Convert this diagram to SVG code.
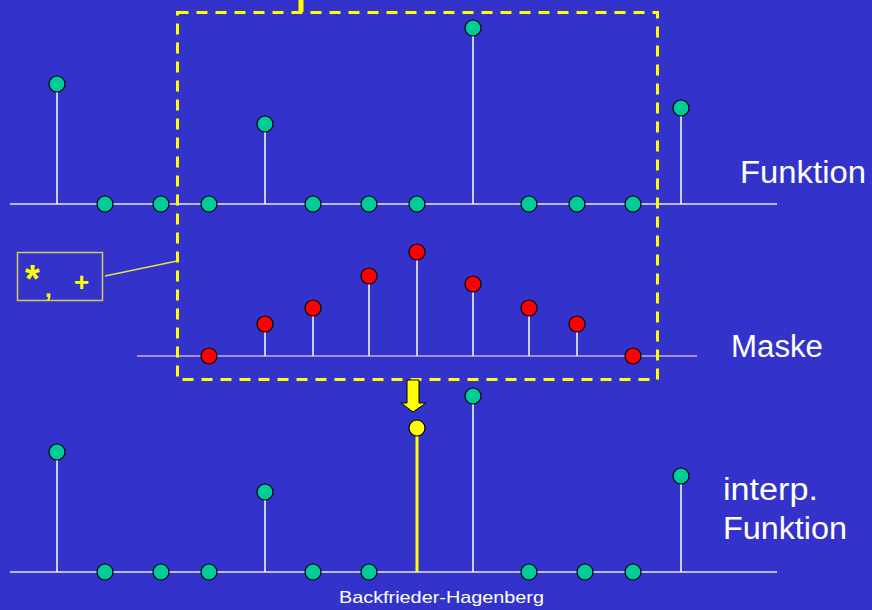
<svg xmlns="http://www.w3.org/2000/svg" width="872" height="610" viewBox="0 0 872 610">
<defs>
<style>
.bg{fill:#3333CC}
.axis{stroke:#E8E8FF;stroke-width:1.5}
.maxis{stroke:#D8A8D0;stroke-width:1.5}
.stem{stroke:#FFFFFF;stroke-width:1.5}
.g{fill:#00CC99;stroke:#000;stroke-width:1.2}
.r{fill:#FF0000;stroke:#000;stroke-width:1.2}
.y{fill:#FFFF00;stroke:#000;stroke-width:1.2}
.lbl{fill:#FFFFFF;font-family:"Liberation Sans",Arial,sans-serif;font-size:31px}
.foot{fill:#FFFFFF;font-family:"Liberation Sans",Arial,sans-serif;font-size:17px}
.op{fill:#FFFF00;font-family:"Liberation Sans",Arial,sans-serif;font-weight:bold}
</style>
</defs>
<rect class="bg" x="0" y="0" width="872" height="610"/>

<g id="connectors">
  <line class="axis" x1="10" y1="204" x2="777" y2="204"/>
  <line class="maxis" x1="137" y1="356" x2="697" y2="356"/>
  <line class="axis" x1="10" y1="572" x2="777" y2="572"/>
  <line class="stem" x1="57" y1="84" x2="57" y2="204"/>
  <line class="stem" x1="265" y1="124" x2="265" y2="204"/>
  <line class="stem" x1="473" y1="28" x2="473" y2="204"/>
  <line class="stem" x1="681" y1="108" x2="681" y2="204"/>
  <line class="stem" x1="265" y1="324" x2="265" y2="356"/>
  <line class="stem" x1="313" y1="308" x2="313" y2="356"/>
  <line class="stem" x1="369" y1="276" x2="369" y2="356"/>
  <line class="stem" x1="417" y1="252" x2="417" y2="356"/>
  <line class="stem" x1="473" y1="284" x2="473" y2="356"/>
  <line class="stem" x1="529" y1="308" x2="529" y2="356"/>
  <line class="stem" x1="577" y1="324" x2="577" y2="356"/>
  <line class="stem" x1="57" y1="452" x2="57" y2="572"/>
  <line class="stem" x1="265" y1="492" x2="265" y2="572"/>
  <line class="stem" x1="473" y1="396" x2="473" y2="572"/>
  <line class="stem" x1="681" y1="476" x2="681" y2="572"/>
  <line x1="417" y1="428" x2="417" y2="572" stroke="#FFFF00" stroke-width="3"/>
  <rect x="177.5" y="12.5" width="480" height="367" fill="none" stroke="#FFFF00" stroke-width="3" stroke-dasharray="11,8"/>
  <line x1="301" y1="0" x2="301" y2="12" stroke="#FFFF00" stroke-width="5"/>
  <line x1="105" y1="276" x2="177" y2="261" stroke="#E8E040" stroke-width="1.3"/>
  <path d="M407,380 L419,380 L419,403 L426,403 L413,412 L401,403 L407,403 Z" fill="#FFFF00" stroke="#000" stroke-width="1"/>
</g>

<g id="funktion">
  <circle class="g" cx="57" cy="84" r="8"/>
  <circle class="g" cx="105" cy="204" r="8"/>
  <circle class="g" cx="161" cy="204" r="8"/>
  <circle class="g" cx="209" cy="204" r="8"/>
  <circle class="g" cx="265" cy="124" r="8"/>
  <circle class="g" cx="313" cy="204" r="8"/>
  <circle class="g" cx="369" cy="204" r="8"/>
  <circle class="g" cx="417" cy="204" r="8"/>
  <circle class="g" cx="473" cy="28" r="8"/>
  <circle class="g" cx="529" cy="204" r="8"/>
  <circle class="g" cx="577" cy="204" r="8"/>
  <circle class="g" cx="633" cy="204" r="8"/>
  <circle class="g" cx="681" cy="108" r="8"/>
  <text class="lbl" x="740" y="183" textLength="126" lengthAdjust="spacingAndGlyphs">Funktion</text>
</g>

<g id="maske">
  <circle class="r" cx="209" cy="356" r="8"/>
  <circle class="r" cx="265" cy="324" r="8"/>
  <circle class="r" cx="313" cy="308" r="8"/>
  <circle class="r" cx="369" cy="276" r="8"/>
  <circle class="r" cx="417" cy="252" r="8"/>
  <circle class="r" cx="473" cy="284" r="8"/>
  <circle class="r" cx="529" cy="308" r="8"/>
  <circle class="r" cx="577" cy="324" r="8"/>
  <circle class="r" cx="633" cy="356" r="8"/>
  <text class="lbl" x="731" y="357" textLength="92" lengthAdjust="spacingAndGlyphs">Maske</text>
</g>

<g id="operation">
  <rect x="17.5" y="252.5" width="85" height="48" fill="none" stroke="#D0C860" stroke-width="1.5"/>
  <text class="op"><tspan x="25" y="292" font-size="38">*</tspan><tspan x="45" y="297" font-size="24">,</tspan><tspan x="74" y="291" font-size="26">+</tspan></text>
</g>

<g id="interp">
  <circle class="g" cx="57" cy="452" r="8"/>
  <circle class="g" cx="105" cy="572" r="8"/>
  <circle class="g" cx="161" cy="572" r="8"/>
  <circle class="g" cx="209" cy="572" r="8"/>
  <circle class="g" cx="265" cy="492" r="8"/>
  <circle class="g" cx="313" cy="572" r="8"/>
  <circle class="g" cx="369" cy="572" r="8"/>
  <circle class="y" cx="417" cy="428" r="8"/>
  <circle class="g" cx="473" cy="396" r="8"/>
  <circle class="g" cx="529" cy="572" r="8"/>
  <circle class="g" cx="585" cy="572" r="8"/>
  <circle class="g" cx="633" cy="572" r="8"/>
  <circle class="g" cx="681" cy="476" r="8"/>
  <text class="lbl" x="723" y="500" textLength="95" lengthAdjust="spacingAndGlyphs">interp.</text>
  <text class="lbl" x="723" y="539" textLength="124" lengthAdjust="spacingAndGlyphs">Funktion</text>
</g>

<g id="footer">
  <text class="foot" x="339" y="603" textLength="205" lengthAdjust="spacingAndGlyphs">Backfrieder-Hagenberg</text>
</g>
</svg>
